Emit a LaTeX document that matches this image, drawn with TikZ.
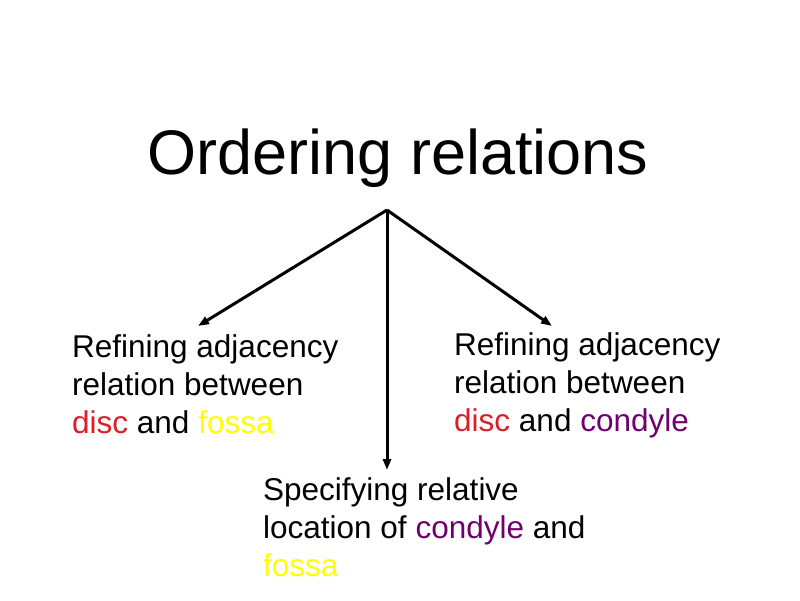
\documentclass[tikz,border=0pt]{standalone}
\usepackage{fontspec}
\setmainfont{Liberation Sans}
\usepackage{xcolor}
\usetikzlibrary{arrows.meta,positioning}
\definecolor{discred}{RGB}{220,30,40}
\definecolor{fossayellow}{RGB}{255,255,0}
\definecolor{condylepurple}{RGB}{112,0,112}
\tikzset{
  branch/.style={line width=3pt,-{Triangle[length=11pt,width=8pt]}},
  item/.style={anchor=north west,inner sep=0pt,align=left,
    font=\fontsize{31.5}{38}\selectfont},
}
\begin{document}
\begin{tikzpicture}[x=1pt,y=-1pt]
\useasboundingbox[fill=white] (0,0) rectangle (800,600);
\node[anchor=north,inner sep=0pt,font=\fontsize{63}{72}\selectfont] (title) at (398,129) {Ordering relations};
\coordinate (fork) at (387,210);
\node[item] (adjLeft) at (72,334) {Refining adjacency\\relation between\\\textcolor{discred}{disc} and \textcolor{fossayellow}{fossa}};
\node[item] (adjRight) at (454,332) {Refining adjacency\\relation between\\\textcolor{discred}{disc} and \textcolor{condylepurple}{condyle}};
\node[item] (location) at (263,477) {Specifying relative\\location of \textcolor{condylepurple}{condyle} and\\\textcolor{fossayellow}{fossa}};
% arrow ends
\coordinate (tipL) at (198,326);
\coordinate (tipR) at (552,326);
\coordinate (tipB) at (387,470);
\draw[branch] (fork) -- (tipL);
\draw[branch] (fork) -- (tipR);
\draw[branch] (fork) -- (tipB);
\end{tikzpicture}
\end{document}
